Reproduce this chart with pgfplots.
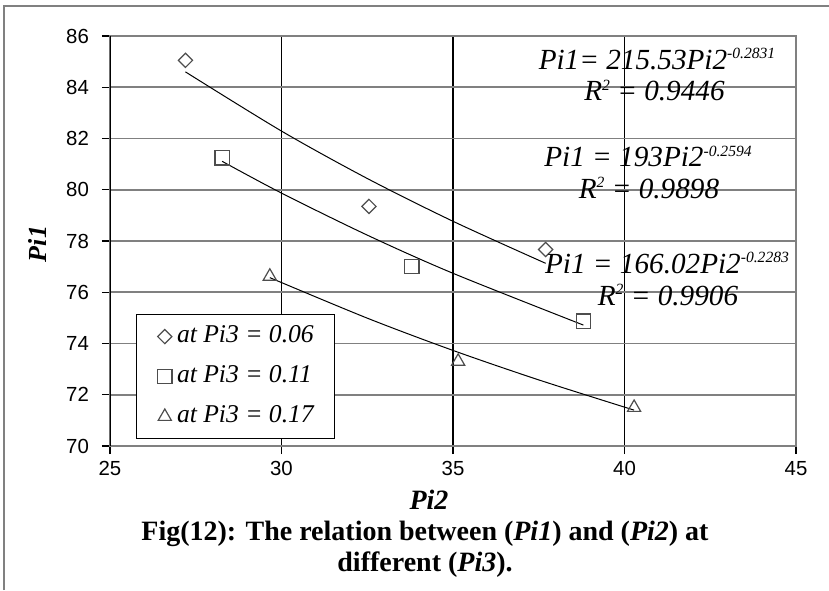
\documentclass[border=0pt]{standalone}
\usepackage{fontspec}
\setmainfont{Liberation Serif}
\newfontfamily\tickfont{Liberation Sans}
\usepackage{pgfplots}
\pgfplotsset{compat=1.18}
\definecolor{gridgray}{HTML}{808080}
\definecolor{markgray}{HTML}{4D4D4D}
\newcommand\sups[1]{\raisebox{5.2pt}{\fontsize{7.8}{8}\selectfont #1}}
\newcommand\eqfont{\fontsize{14.6}{16}\selectfont\itshape}

\begin{document}
\begin{tikzpicture}
% page frame, in pixel-like units (origin top left)
\begin{scope}[x=0.5pt,y=-0.5pt]
  \useasboundingbox (0,0) rectangle (829,590);
  \fill[white] (0,0) rectangle (829,590);
  \draw[gridgray,line width=0.9pt] (4,590) -- (4,6) -- (829,6);
\end{scope}

\begin{axis}[
  at={(55pt,-223pt)}, anchor=south west,
  scale only axis, width=343pt, height=205pt,
  xmin=25, xmax=45, ymin=70, ymax=86,
  xtick={25,30,35,40,45}, ytick={70,72,...,86},
  grid=major,
  major x grid style={black, line width=0.55pt},
  major y grid style={gridgray, line width=0.9pt},
  axis line style={gridgray, line width=0.9pt},
  tick align=outside, major tick length=4pt,
  tick style={black, line width=0.6pt},
  xtick pos=lower, ytick pos=left,
  tick label style={font=\fontsize{10.2}{11}\tickfont},
  yticklabel style={xshift=-3pt},
  /pgf/number format/assume math mode=true,
  xlabel={Pi2}, ylabel={Pi1},
  xlabel style={font=\fontsize{14}{15}\selectfont\bfseries\itshape,
    at={(axis description cs:0.465,-0.1544)}, anchor=base},
  ylabel style={font=\fontsize{13}{15}\selectfont\bfseries\itshape,
    at={(axis description cs:-0.1064,0.4927)}, anchor=center},
  legend style={at={(axis description cs:0.0379,0.322)}, anchor=north west,
    draw=black, line width=0.6pt, fill=white,
    inner xsep=10.5pt, inner ysep=5pt, row sep=8pt, column sep=2.5pt,
    font=\fontsize{12.8}{14}\selectfont\itshape,
    nodes={inner sep=0pt, text height=9pt, text depth=3pt}},
  legend cell align=left,
  legend image code/.code={\draw[#1] plot coordinates {(3.5pt,0pt)};},
]
% Pi3 = 0.06
\addplot[only marks, mark=square, mark size=2.5pt,
  mark options={rotate=45, draw=markgray, fill=white, line width=0.6pt}]
  coordinates {(27.2,85.05) (32.55,79.35) (37.7,77.67)};
\addlegendentry{at Pi3 = 0.06}
% Pi3 = 0.11
\addplot[only marks, mark=square, mark size=3.6pt,
  mark options={draw=markgray, fill=white, line width=0.6pt}]
  coordinates {(28.27,81.25) (33.8,77.0) (38.8,74.87)};
\addlegendentry{at Pi3 = 0.11}
% Pi3 = 0.17
\addplot[only marks, mark=triangle, mark size=3.8pt,
  mark options={draw=markgray, fill=white, line width=0.6pt}]
  coordinates {(29.66,76.62) (35.15,73.3) (40.28,71.5)};
\addlegendentry{at Pi3 = 0.17}

% power trend lines, tabulated from the fitted equations
\addplot[black, line width=0.5pt, smooth, forget plot] coordinates {
  (27.2,84.60) (30,82.29) (32.5,80.44) (35,78.77) (37.7,77.13)};
\addplot[black, line width=0.5pt, smooth, forget plot] coordinates {
  (28.27,81.11) (30,79.87) (32.5,78.23) (35,76.74) (38.8,74.72)};
\addplot[black, line width=0.5pt, smooth, forget plot] coordinates {
  (29.66,76.57) (32.5,74.99) (35,73.73) (37.5,72.58) (40.28,71.40)};

\draw[black, line width=0.9pt] (rel axis cs:0,0) -- (rel axis cs:0,1);
\end{axis}

\begin{scope}[x=0.5pt,y=-0.5pt]
  % trend equations
  \node[anchor=base, inner sep=0pt, font=\eqfont] at (657,69.3) {Pi1= 215.53Pi2\sups{-0.2831}};
  \node[anchor=base, inner sep=0pt, font=\eqfont] at (654.5,100.7) {R\sups{2} = 0.9446};
  \node[anchor=base, inner sep=0pt, font=\eqfont] at (648,166.7) {Pi1 = 193Pi2\sups{-0.2594}};
  \node[anchor=base, inner sep=0pt, font=\eqfont] at (649,198) {R\sups{2} = 0.9898};
  \node[anchor=base, inner sep=0pt, font=\eqfont] at (667,273) {Pi1 = 166.02Pi2\sups{-0.2283}};
  \node[anchor=base, inner sep=0pt, font=\eqfont] at (668,305) {R\sups{2} = 0.9906};
  % caption
  \node[anchor=base, inner sep=0pt, font=\fontsize{14}{16}\selectfont\bfseries] at (425,540.7)
    {Fig(12): The relation between (\textit{Pi1}) and (\textit{Pi2}) at};
  \node[anchor=base, inner sep=0pt, font=\fontsize{14}{16}\selectfont\bfseries] at (425,571.7)
    {different (\textit{Pi3}).};
\end{scope}
\end{tikzpicture}
\end{document}
